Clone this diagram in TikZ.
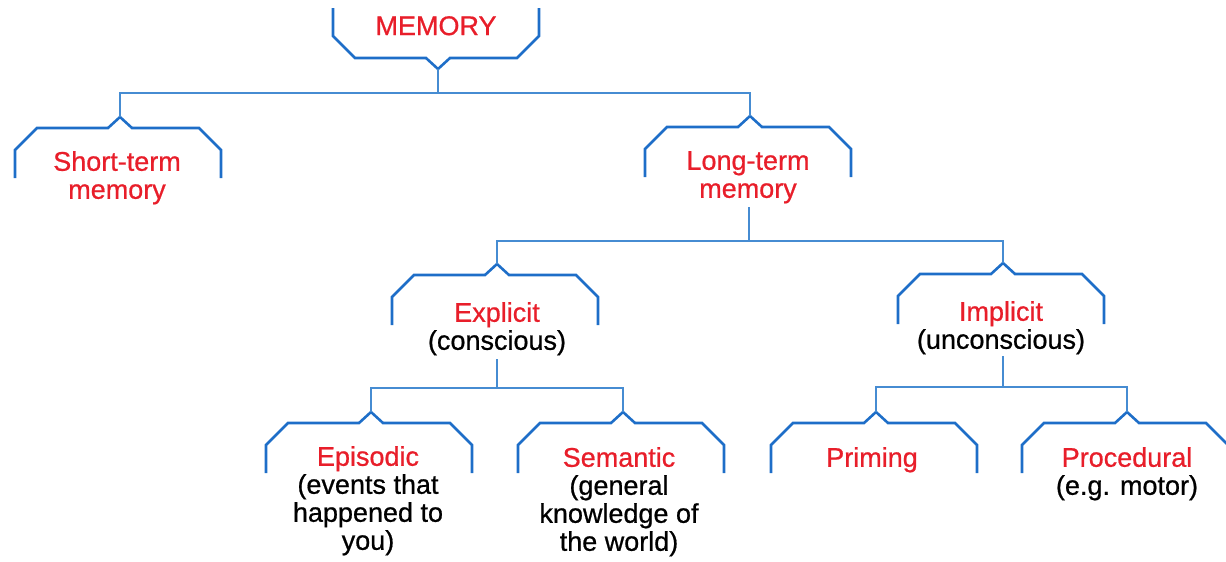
\documentclass[tikz,border=0pt]{standalone}
\usepackage{fontspec}
\setmainfont{Liberation Sans}[FakeBold=0.7]
\definecolor{memred}{RGB}{232,30,42}
\definecolor{bracecol}{RGB}{30,110,200}
\definecolor{conncol}{RGB}{70,140,210}
\tikzset{
  bracestyle/.style={draw=bracecol, line width=2.6pt, line join=miter, line cap=butt},
  connstyle/.style={draw=conncol, line width=1.8pt},
  brc/.pic={\draw[bracestyle] (-105,61) -- (-105,33) -- (-83,11) -- (-12,11) -- (0,0) -- (12,11) -- (79,11) -- (101,33) -- (101,61);},
  lbl/.style={anchor=north, inner sep=0pt, align=center, text=black,
              font=\fontsize{27}{28}\selectfont},
}
\newcommand{\rd}[1]{\textcolor{memred}{#1}}
\begin{document}
\begin{tikzpicture}[x=1pt,y=-1pt]
\useasboundingbox (0,0) rectangle (1226,562);
% braces
\pic[yscale=-1] at (438,69) {brc};
\pic at (120,117) {brc};
\pic at (750,116) {brc};
\pic at (497,264) {brc};
\pic at (1003,263) {brc};
\pic at (371,412) {brc};
\pic at (623,412) {brc};
\pic at (876,412) {brc};
\pic at (1127,412) {brc};
% tips and junctions
\coordinate (tMem) at (438,69);
\coordinate (j1) at (438,93);
\coordinate (tST) at (120,117);
\coordinate (tLT) at (750,116);
\coordinate (bLT) at (749,207);
\coordinate (j2) at (749,241);
\coordinate (tEx) at (497,264);
\coordinate (tIm) at (1003,263);
\coordinate (bEx) at (497,359);
\coordinate (j3) at (497,388);
\coordinate (bIm) at (1003,356);
\coordinate (j4) at (1003,387);
\coordinate (tEp) at (371,412);
\coordinate (tSe) at (623,412);
\coordinate (tPr) at (876,412);
\coordinate (tPd) at (1127,412);
% labels
\node[lbl] (mem) at (436,16) {\rd{MEMORY}};
\node[lbl] (st) at (117,151) {\rd{Short-term}\\\rd{memory}};
\node[lbl] (lt) at (748,151) {\rd{Long-term}\\\rd{memory}};
\node[lbl] (ex) at (497,302) {\rd{Explicit}\\(conscious)};
\node[lbl] (im) at (1001,301) {\rd{Implicit}\\(unconscious)};
\node[lbl] (ep) at (368,446) {\rd{Episodic}\\(events that\\happened to\\you)};
\node[lbl] (se) at (619,447) {\rd{Semantic}\\(general\\knowledge of\\the world)};
\node[lbl] (pr) at (872,447) {\rd{Priming}};
\node[lbl] (pd) at (1127,447) {\rd{Procedural}\\(e.g. motor)};
% connectors
\draw[connstyle] (tMem) -- (j1);
\draw[connstyle] (tST) |- (j1) -| (tLT);
\draw[connstyle] (bLT) -- (j2);
\draw[connstyle] (tEx) |- (j2) -| (tIm);
\draw[connstyle] (bEx) -- (j3);
\draw[connstyle] (tEp) |- (j3) -| (tSe);
\draw[connstyle] (bIm) -- (j4);
\draw[connstyle] (tPr) |- (j4) -| (tPd);
\end{tikzpicture}
\end{document}
